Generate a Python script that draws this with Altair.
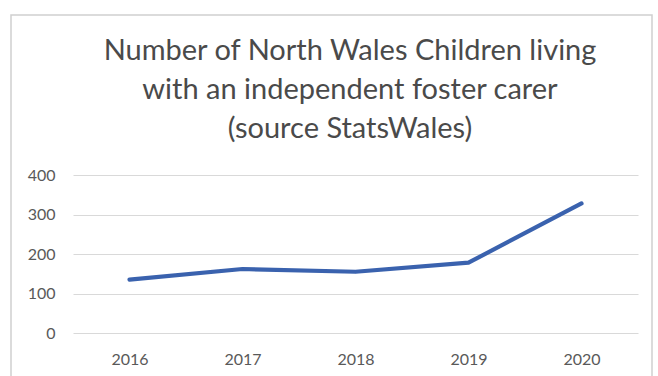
import altair as alt
import pandas as pd

years = ["2016", "2017", "2018", "2019", "2020"]
children = [135, 162, 155, 178, 328]
title_lines = ["Number of North Wales Children living",
               "with an independent foster carer",
               "(source StatsWales)"]

df = pd.DataFrame({"year": years, "children": children})

FONT = "Lato"
TXT = "#595959"

border = alt.Chart(pd.DataFrame({"a": [0]})).mark_rect(
    fill=None, stroke="#d0d0d0", strokeWidth=1.5
).encode(
    x=alt.value(-62), x2=alt.value(579), y=alt.value(-160), y2=alt.value(230)
)

title_layers = [
    alt.Chart(pd.DataFrame({"t": [t]})).mark_text(
        font=FONT, fontSize=29, color="#4a4a4a", align="center", baseline="alphabetic"
    ).encode(x=alt.value(277), y=alt.value(-115 + 39 * i), text="t:N")
    for i, t in enumerate(title_lines)
]

line = alt.Chart(df).mark_line(color="#3A62AE", strokeWidth=4.2, strokeCap="round", strokeJoin="round").encode(
    x=alt.X("year:O", sort=years, title=None,
            scale=alt.Scale(type="point", padding=0.5),
            axis=alt.Axis(labelAngle=0, ticks=False, domain=False, grid=False, labelPadding=18,
                          labelFont=FONT, labelFontSize=16, labelColor=TXT)),
    y=alt.Y("children:Q", title=None,
            scale=alt.Scale(domain=[0, 400], nice=False),
            axis=alt.Axis(values=[0, 100, 200, 300, 400], ticks=False, domain=False,
                          labelPadding=18, labelFont=FONT, labelFontSize=16, labelColor=TXT,
                          gridColor="#d9d9d9", gridWidth=1.2)),
)

chart = alt.layer(border, *title_layers, line).properties(
    width=565, height=158,
    background="white",
    autosize=alt.AutoSizeParams(type="none"),
    padding={"left": 73, "top": 175, "right": 20, "bottom": 43},
).configure_view(strokeWidth=0, stroke="transparent")

chart.save("out.html", embed_options={"renderer": "svg", "actions": False})
